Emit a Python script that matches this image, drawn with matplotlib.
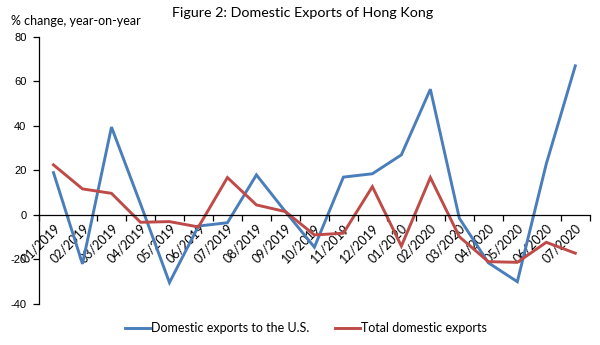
import matplotlib
matplotlib.use("Agg")
import matplotlib.pyplot as plt
import numpy as np

months = ["01/2019", "02/2019", "03/2019", "04/2019", "05/2019", "06/2019",
          "07/2019", "08/2019", "09/2019", "10/2019", "11/2019", "12/2019",
          "01/2020", "02/2020", "03/2020", "04/2020", "05/2020", "06/2020",
          "07/2020"]
us_exports = [19.0, -22.0, 39.5, 5.0, -30.4, -5.0, -3.5, 18.0, 1.5, -14.5,
              17.0, 18.5, 27.0, 56.5, -1.5, -21.5, -30.0, 23.0, 67.0]
total_exports = [22.5, 11.7, 9.7, -3.3, -3.0, -5.4, 16.8, 4.5, 1.5, -9.0,
                 -8.2, 12.7, -14.0, 16.8, -9.8, -21.0, -21.3, -12.3, -17.2]
y_ticks = [-40, -20, 0, 20, 40, 60, 80]

BLUE = "#4A7EBB"
RED = "#BE4B48"
FONT = ["Lato", "DejaVu Sans"]

plt.rcParams["font.family"] = FONT

fig = plt.figure(figsize=(6.0, 3.45), dpi=100)
ax = fig.add_axes([0.065, 0.119, 0.918, 0.774])

x = np.arange(len(months))
ax.plot(x, us_exports, color=BLUE, lw=2.1, label="Domestic exports to the U.S.",
        solid_joinstyle="miter")
ax.plot(x, total_exports, color=RED, lw=2.1, label="Total domestic exports",
        solid_joinstyle="miter")

ax.set_xlim(-0.5, len(months) - 0.5)
ax.set_ylim(y_ticks[0], y_ticks[-1])

# axes: vertical axis on the left, category axis running along zero
for side in ("top", "right"):
    ax.spines[side].set_visible(False)
ax.spines["bottom"].set_position(("data", 0))
ax.spines["bottom"].set_linewidth(0.9)
ax.spines["left"].set_linewidth(0.9)

ax.set_yticks(y_ticks)
ax.set_yticklabels([str(v) for v in y_ticks], family=["Liberation Sans"], fontsize=8)
ax.tick_params(axis="y", direction="out", length=4, width=0.9, pad=5)

ax.set_xticks(x)
ax.set_xticklabels(months, rotation=45, ha="right", rotation_mode="anchor", fontsize=9)
ax.set_xticks(np.arange(len(months) + 1) - 0.5, minor=True)
ax.tick_params(axis="x", which="major", length=0, pad=5)
ax.tick_params(axis="x", which="minor", direction="out", length=4, width=0.9)

fig.text(0.504, 0.962, "Figure 2: Domestic Exports of Hong Kong", ha="center",
         va="center", fontsize=10.3)
fig.text(0.018, 0.94, "% change, year-on-year", ha="left", va="center", fontsize=9)

fig.legend(loc="center", bbox_to_anchor=(0.51, 0.049), ncol=2, frameon=False,
           fontsize=9, handlelength=2.0, handletextpad=0.1, columnspacing=2.0)

fig.savefig("out.png", dpi=100)
